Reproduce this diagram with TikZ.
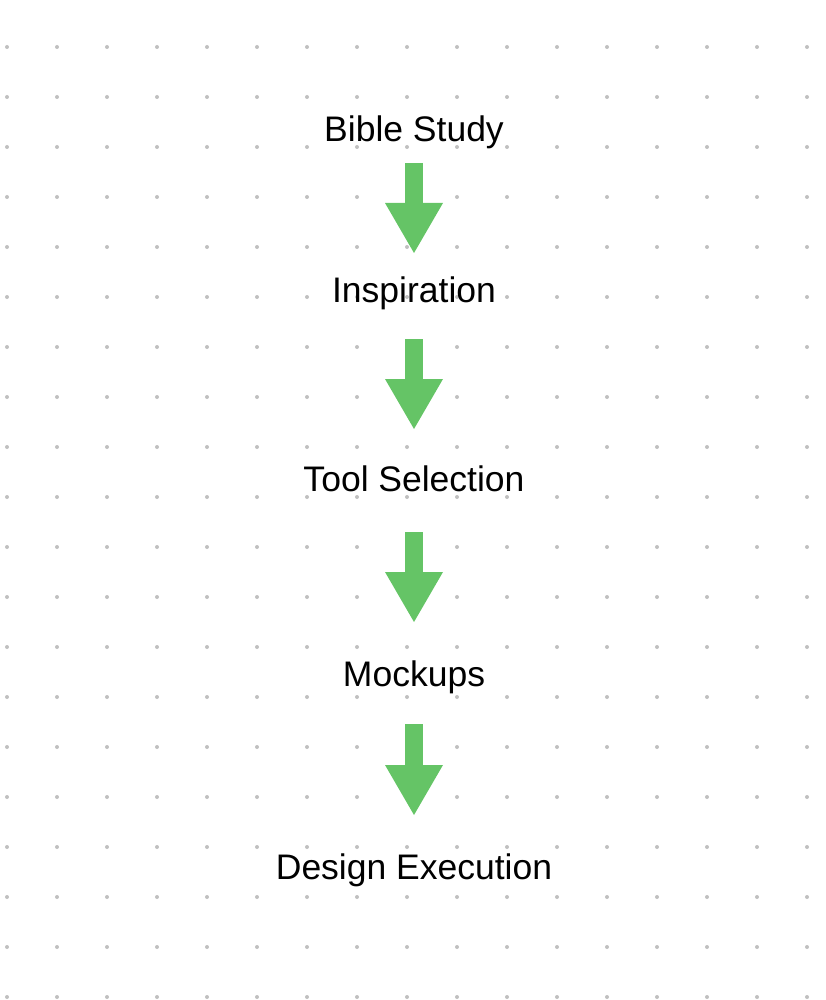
\documentclass[tikz,border=0pt]{standalone}
\usepackage{fontspec}
\setmainfont{Liberation Sans}
\usetikzlibrary{arrows.meta}
\definecolor{flowgreen}{RGB}{101,196,102}
\definecolor{griddot}{RGB}{192,192,192}

\begin{document}
\begin{tikzpicture}[x=1pt, y=-1pt, every node/.style={anchor=base,
  inner sep=0pt, font=\fontsize{35.5}{40}\selectfont},
  flow/.style={flowgreen, line width=17.7pt,
  -{Triangle[length=50pt, width=58pt, line width=0pt]}}]
  \useasboundingbox (0,0) rectangle (826,1000);
  % dotted paper
  \foreach \i in {0,...,16}
    \foreach \j in {0,...,19}
      \fill[griddot] (7+50*\i, 47+50*\j) circle (2pt);
  % steps
  \node (bible) at (414,141.7) {Bible Study};
  \node (insp)  at (414,302.7) {Inspiration};
  \node (tool)  at (414,491.7) {Tool Selection};
  \node (mock)  at (414,686)   {Mockups};
  \node (exec)  at (414,879)   {Design Execution};
  % arrows between steps
  \draw[flow] ([yshift=-21.3pt]bible.base) -- ([yshift=49.7pt]insp.base);
  \draw[flow] ([yshift=-36.3pt]insp.base) -- ([yshift=62.7pt]tool.base);
  \draw[flow] ([yshift=-40.3pt]tool.base) -- ([yshift=64pt]mock.base);
  \draw[flow] ([yshift=-38pt]mock.base) -- ([yshift=64pt]exec.base);
\end{tikzpicture}
\end{document}
